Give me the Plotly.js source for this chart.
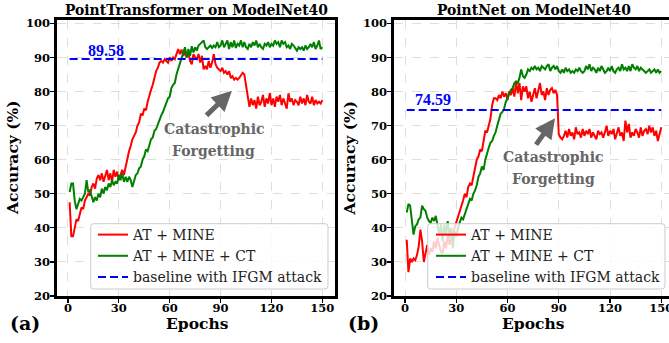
<!DOCTYPE html>
<html><head><meta charset="utf-8">
<script src="https://cdn.plot.ly/plotly-3.0.1.min.js"></script>
<style>html,body{margin:0;padding:0;overflow:hidden;background:#fff}</style>
</head><body><div id="chart" style="width:680px;height:343px"></div>
<script>
const epochs = Array.from({length:150}, (_, i) => i + 1);
const xTicks = [0, 30, 60, 90, 120, 150];
const yTicks = [20, 30, 40, 50, 60, 70, 80, 90, 100];
const seriesNames = ["AT + MINE", "AT + MINE + CT", "baseline with IFGM attack"];
const baselinePT = 89.58;
const baselinePN = 74.59;

const ptRed = [47.5,37.5,37.5,40,42.5,42,44,46,45.5,48, 49,50,49.5,52,53,51.5,54.5,55.5,54,56,
53.5,55,57,54,56,53.5,57,55,56.5,54, 55.5,57,55.5,58,60,62.5,64,66,67,68,
70,71,73.5,73,75,74.5,77,79,80.5,82, 84,86,87,88.5,89,88.5,89.5,89,88.5,90,
89,90,89.5,91,92.5,91,92.3,90.5,91.5,90, 91.5,89,88,91,90,89.5,91,88.5,90.5,86.5,
87.5,86.5,89,87,88.5,91,88,87,86.5,86, 87,85.5,86,85,86,84,84.5,83.5,84,83.5,
84,85,85.5,85,82,78,75.5,78,76,77.5, 75,78.5,76,77,79,75.5,78,76.5,79.5,76,
78,75.5,78.5,77,79,76,78,76.5,75,79.5, 77,78,76,77.5,77,76,78.5,76.5,78,76,
79,77,76.5,78.5,76,77.5,76.5,77,76.5,77.5];

const ptGreen = [50.5,53,53,48,45.5,47,48.5,48,49,50, 54,50.5,51,49.5,47.5,49,48,50,49,51.5,
50,52,51,53,52,54,52.5,53.5,53,55.5, 54,56,53.5,55,53.5,55,54,52,54,55.5,
56,57.5,58,60,61,63,62.5,64.5,66,66.5, 68.5,69,70.5,71.5,73,74,75.5,77,78,78.5,
81,82,82.5,85,86.5,88,89.5,91,93,90, 92.5,90.5,93.3,91.5,93,92,93.5,94,94.5,95,
93,92.5,93,93.5,92.8,93.5,93,94.5,93,93.5, 95,93,94,95,92.5,94.5,93,95,92.8,94,
93.5,95,93,94.5,93,92.5,94,93,94.5,93.5, 95,93,94,93,92.5,94,93.5,94.5,93,94,
93.5,95,94,94.5,93,95,94,94.5,93,93.5, 92.5,94,93.5,92.5,92,93,92.5,93,92,93.5,
92.5,93,94,93,94.5,92.5,93.5,95,92.5,93];

const pnRed = [36.5,27,31,30,31,30.5,32,34.5,39.5,36, 30,33,35,32,34,33,36,34,37,35,
33,32.5,36,34,38,35,37,38.5,40,41.5, 43,45,46,48,50,49,52,53,52.5,55,
57.5,60,61,63,62.5,66,68.5,68,70.5,72, 76,78,78,77.5,79,78,80,78.5,79.5,77.5,
80,79,81,78.5,83,79.5,82.5,77.5,81.5,80, 81.5,78,80,77,79,81,78,80.5,82.5,79,
80,77.5,81,79,80.5,81,79.5,80.5,79,67.5, 66.5,66,67,68.5,66.5,69,67,68,66,69.5,
67.5,68,66.5,69,67,68.5,67.5,69,66.5,68, 67,66,68.5,67.5,68,66.5,68,70,67,68.5,
67.5,69,66,67.5,69.5,67,68,65.5,71.5,68, 70.5,66.5,68,67,69,68,66.5,69.5,67,68.5,
69,67.5,70,68,69.5,67,68.5,65.5,67.5,69.5];

const pnGreen = [44.5,47,46.5,42,38,40.5,41,42.5,43,46.5, 45.5,45,43,42,41.5,43,42,43.5,40,38,
41,36,41,38,42,37,40,34,39,37.5, 40,41.5,43,42.5,44,45.5,47,48.5,48,50,
51,52.5,55,56,58,57,60,62,63.5,65, 65.5,67,68,70,72,73.5,74,75,77,78,
79.5,80.5,81,82.5,83,82.5,84,86.5,84.5,84, 85,86.5,86,87,86.5,87.5,86.5,87,86,87.5,
87,86.5,87.5,88,86,87,87.5,86.5,87.5,86, 85.5,86.5,85.5,87,86,86.5,85.5,86,85.5,86.5,
86,87,86,85.5,86,87.5,86.5,88,86,87, 86.5,85.5,87,86,87.5,86.5,85.5,86,87,86,
87.5,86,85.5,86.5,87,86,88,86.5,87,86, 87.5,86,88,87,86.5,87.5,86,87,86.5,86,
85.5,86,86.5,85.5,86,86.5,85.5,86.5,85.5,86];

const W = 680, H = 343;
const TOP = 20, BOT = 296;
const px = v => v / W;
const py = v => (BOT - v) / (BOT - TOP);

const serif = '"DejaVu Serif", "Liberation Serif", serif';
const times = '"Liberation Serif", "Times New Roman", serif';
const lineW = 2;
const dashPat = '8px,4px';

function mk(x, y, name, color, xa, ya, leg, dash) {
  return {x, y, name, type: 'scatter', mode: 'lines', xaxis: xa, yaxis: ya,
    legend: leg, line: {color, width: lineW, dash: dash || 'solid'}, hoverinfo: 'skip'};
}

const traces = [
  mk(epochs, ptRed, seriesNames[0], '#ff0000', 'x', 'y', 'legend'),
  mk(epochs, ptGreen, seriesNames[1], '#008000', 'x', 'y', 'legend'),
  mk([1, 150], [baselinePT, baselinePT], seriesNames[2], '#0000ff', 'x', 'y', 'legend', dashPat),
  mk(epochs, pnRed, seriesNames[0], '#ff0000', 'x2', 'y2', 'legend2'),
  mk(epochs, pnGreen, seriesNames[1], '#008000', 'x2', 'y2', 'legend2'),
  mk([1, 150], [baselinePN, baselinePN], seriesNames[2], '#0000ff', 'x2', 'y2', 'legend2', dashPat)
];

const tickFont = {family: serif, size: 11.5, weight: 'bold', color: '#000'};
function xax(domain, anchor) {
  return {domain, anchor, range: [-6.45, 157.45], tickvals: xTicks, ticktext: xTicks.map(String),
    showline: true, linewidth: 2.6, linecolor: '#000', mirror: true,
    ticks: 'outside', ticklen: 4, tickwidth: 1.2, tickcolor: '#000', ticklabelstandoff: -4,
    showgrid: true, gridcolor: '#d6d6d6', griddash: 'dash', gridwidth: 0.8,
    zeroline: false, tickfont: tickFont, fixedrange: true};
}
function yax(anchor) {
  return {domain: [0, 1], anchor, range: [20, 101], tickvals: yTicks, ticktext: yTicks.map(String),
    showline: true, linewidth: 2.6, linecolor: '#000', mirror: true,
    ticks: 'outside', ticklen: 4, tickwidth: 1.2, tickcolor: '#000', ticklabelstandoff: -2,
    showgrid: true, gridcolor: '#d6d6d6', griddash: 'dash', gridwidth: 0.8,
    zeroline: false, tickfont: tickFont, fixedrange: true};
}

const legendBase = {
  xanchor: 'right', yanchor: 'bottom', y: py(293),
  bgcolor: 'rgba(0,0,0,0)', borderwidth: 0,
  font: {family: serif, size: 14, color: '#222'}, tracegroupgap: 0, itemwidth: 30
};

// rounded legend frame drawn as a shape (pixel box -> paper fractions)
function frame(x0, y0, x1, y1, r) {
  const X = v => (v / W).toFixed(5), Y = v => py(v).toFixed(5);
  const path = `M${X(x0 + r)},${Y(y0)} L${X(x1 - r)},${Y(y0)} Q${X(x1)},${Y(y0)} ${X(x1)},${Y(y0 + r)} ` +
    `L${X(x1)},${Y(y1 - r)} Q${X(x1)},${Y(y1)} ${X(x1 - r)},${Y(y1)} L${X(x0 + r)},${Y(y1)} ` +
    `Q${X(x0)},${Y(y1)} ${X(x0)},${Y(y1 - r)} L${X(x0)},${Y(y0 + r)} Q${X(x0)},${Y(y0)} ${X(x0 + r)},${Y(y0)} Z`;
  return {type: 'path', xref: 'paper', yref: 'paper', path, layer: 'above',
    fillcolor: 'rgba(255,255,255,0.8)', line: {color: '#cccccc', width: 1}};
}

function txt(text, x, y, size, extra) {
  return Object.assign({text, x: px(x), y: py(y), xref: 'paper', yref: 'paper',
    xanchor: 'center', yanchor: 'middle', showarrow: false,
    font: {family: serif, size, weight: 'bold', color: '#000'}}, extra || {});
}
const grey = '#666666';
const greyFont = {family: serif, size: 14, weight: 'bold', color: grey};
const blueFont = {family: times, size: 16, weight: 'bold', color: '#0000ff'};

const annotations = [
  txt('PointTransformer on ModelNet40', 196.5, 10, 13.9),
  txt('PointNet on ModelNet40', 534, 10, 13.9),
  txt('Epochs', 197, 323.5, 15.5),
  txt('Epochs', 533.5, 323.5, 15.5),
  txt('(a)', 25, 323, 19),
  txt('(b)', 363, 323, 19),
  txt('Accuracy (%)', 12, 158, 15.5, {textangle: -90}),
  txt('Accuracy (%)', 348.5, 158, 15.5, {textangle: -90}),
  txt(String(baselinePT), 105.7, 50.3, 16, {font: blueFont}),
  txt(String(baselinePN), 433.5, 99.5, 16, {font: blueFont}),
  txt('Catastrophic', 214, 129, 14, {font: greyFont}),
  txt('Forgetting', 213, 151, 14, {font: greyFont}),
  txt('Catastrophic', 553, 157, 14, {font: greyFont}),
  txt('Forgetting', 553, 179, 14, {font: greyFont}),
  {x: 96.7, y: 80.2, xref: 'x', yref: 'y', text: '', showarrow: true, ax: -27, ay: 26,
    arrowhead: 2, arrowsize: 0.8, arrowwidth: 5, arrowcolor: grey, standoff: 0},
  {x: 87.8, y: 72.2, xref: 'x2', yref: 'y2', text: '', showarrow: true, ax: -20, ay: 28,
    arrowhead: 2, arrowsize: 0.8, arrowwidth: 5, arrowcolor: grey, standoff: 0}
];

const layout = {
  width: W, height: H,
  margin: {l: 0, r: 0, t: TOP, b: H - BOT, pad: 0},
  paper_bgcolor: '#fff', plot_bgcolor: '#fff',
  showlegend: true,
  xaxis: xax([px(57), px(335)], 'y'),
  yaxis: yax('x'),
  xaxis2: xax([px(394), px(674)], 'y2'),
  yaxis2: yax('x2'),
  legend: Object.assign({}, legendBase, {x: px(328)}),
  legend2: Object.assign({}, legendBase, {x: px(666)}),
  shapes: [frame(90.7, 223.7, 328, 289, 3), frame(427.7, 223.7, 665, 289, 3)],
  annotations
};

Plotly.newPlot('chart', traces, layout, {staticPlot: true, displayModeBar: false});
</script></body></html>
